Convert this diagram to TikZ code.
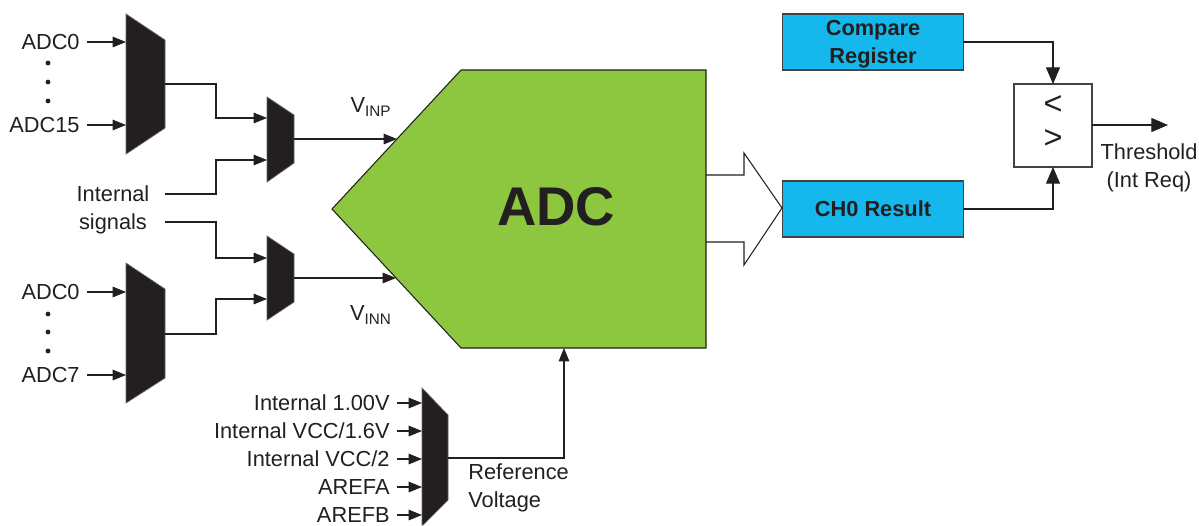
\documentclass[tikz,border=0pt]{standalone}
\usepackage{fontspec}
\setmainfont{Liberation Sans}
\usetikzlibrary{arrows.meta}
\definecolor{adcgreen}{HTML}{8DC63F}
\definecolor{regblue}{HTML}{14B8EC}
\definecolor{muxblack}{HTML}{231F20}
\tikzset{
 sig/.style={draw=muxblack, line width=.6pt, ->, >={Triangle[length=7.6pt,width=6pt]}},
 sigbig/.style={draw=muxblack, line width=.6pt, ->, >={Triangle[length=9.5pt,width=8pt]}},
 wire/.style={draw=muxblack, line width=.6pt},
 muxbody/.style={fill=muxblack, draw=muxblack!70, line width=.4pt},
 txt/.style={text=muxblack, font=\fontsize{12.4}{14}\selectfont, inner sep=0pt, text height=11pt, text depth=2.1pt},
 siglabel/.style={txt, anchor=east, inner xsep=4pt},
 regbox/.style={draw=muxblack!85, fill=regblue, line width=.7pt, outer sep=0pt, minimum width=3.62cm, minimum height=1.12cm, inner sep=0pt}
}
\begin{document}
\begin{tikzpicture}[x=.02cm, y=-.02cm]
\useasboundingbox (0,0) rectangle (1199,525);
\coordinate (inpA) at (397,139);
\coordinate (innA) at (396,278);
\coordinate (refA) at (564,348);
\coordinate (muxAone) at (126,42);
\coordinate (muxAtwo) at (126,125);
\coordinate (muxAout) at (165,84);
\coordinate (muxBone) at (267,118);
\coordinate (muxBtwo) at (267,160);
\coordinate (muxBout) at (294,139);
\coordinate (muxCone) at (267,258);
\coordinate (muxCtwo) at (267,299);
\coordinate (muxCout) at (294,278);
\coordinate (muxDone) at (126,292);
\coordinate (muxDtwo) at (126,375);
\coordinate (muxDout) at (165,334);
\coordinate (muxEout) at (448,458);
\draw[muxbody] (126,14)--(165,40)--(165,128)--(126,154)--cycle;
\draw[muxbody] (267,97)--(294,115)--(294,163)--(267,182)--cycle;
\draw[muxbody] (267,236)--(294,254)--(294,302)--(267,320)--cycle;
\draw[muxbody] (126,263)--(165,289)--(165,378)--(126,403)--cycle;
\draw[muxbody] (422,388)--(448,415)--(448,500)--(423,525)--(422,525)--cycle;
\draw[fill=adcgreen, draw=muxblack, line width=.6pt] (332,209)--(461,70)--(706,70)--(706,348)--(461,348)--cycle;
\node[text=muxblack, inner sep=0pt, font=\fontsize{31}{36}\selectfont\bfseries] (adc) at (556,207) {ADC};
\node[siglabel] (adcA) at (87,42) {ADC0};
\node[siglabel] (adcB) at (87,125) {ADC15};
\node[siglabel] (adcC) at (87,292) {ADC0};
\node[siglabel] (adcD) at (87,375) {ADC7};
\foreach \y in {63,82,101,314,332,351} {
 \fill[muxblack] (48,\y) circle (2.4);
}
\node[txt] (intA) at (113,194) {Internal};
\node[txt] (intB) at (113,222) {signals};
\coordinate (intAend) at (165,194);
\coordinate (intBend) at (165,222);
\node[txt] (vinp) at (371,105) {V\textsubscript{INP}};
\node[txt] (vinn) at (371,313) {V\textsubscript{INN}};
\node[siglabel] (refa) at (397,403) {Internal 1.00V};
\node[siglabel] (refb) at (397,431) {Internal VCC/1.6V};
\node[siglabel] (refc) at (397,459) {Internal VCC/2};
\node[siglabel] (refd) at (397,487) {AREFA};
\node[siglabel] (refe) at (397,515) {AREFB};
\node[txt, anchor=west] (refvA) at (468,472) {Reference};
\node[txt, anchor=west] (refvB) at (468,500) {Voltage};
\node[regbox] (cmpreg) at (873,42) {};
\node[txt, font=\fontsize{12.4}{14}\selectfont\bfseries] (cmpA) at (873,28) {Compare};
\node[txt, font=\fontsize{12.4}{14}\selectfont\bfseries] (cmpB) at (873,56) {Register};
\node[regbox, font=\fontsize{12.4}{14}\selectfont\bfseries, text=muxblack] (result) at (873,209) {CH0 Result};
\node[draw=muxblack!85, line width=.6pt, outer sep=0pt, minimum width=1.56cm, minimum height=1.66cm] (cmp) at (1053,125.5) {};
\node[text=muxblack, inner sep=0pt, font=\fontsize{18.5}{22}\selectfont] (lt) at (1053,105) {<};
\node[text=muxblack, inner sep=0pt, font=\fontsize{18.5}{22}\selectfont] (gt) at (1053,139.5) {>};
\coordinate (thr) at (1168,125);
\node[txt] (thrA) at (1149,152) {Threshold};
\node[txt] (thrB) at (1149,180) {(Int Req)};
\draw[wire] (706,175)--(744,175)--(744,153)--(782,208)--(744,265)--(744,242)--(706,242);
\draw[sig] (adcA.east)--(muxAone);
\draw[sig] (adcB.east)--(muxAtwo);
\draw[sig] (adcC.east)--(muxDone);
\draw[sig] (adcD.east)--(muxDtwo);
\draw[sig] (muxAout)-|(216,118)--(muxBone);
\draw[sig] (intAend)-|(216,160)--(muxBtwo);
\draw[sig] (intBend)-|(216,258)--(muxCone);
\draw[sig] (muxDout)-|(216,299)--(muxCtwo);
\draw[sig] (muxBout)--(inpA);
\draw[sig] (muxCout)--(innA);
\foreach \n in {a,b,c,d,e} {
 \draw[sig] (ref\n.east)--(ref\n.east-|422,0);
}
\draw[sig] (muxEout)-|(refA);
\draw[sigbig] (cmpreg.east)-|(cmp.north);
\draw[sigbig] (result.east)-|(cmp.south);
\draw[sigbig] (cmp.east|-thr)--(thr);
\end{tikzpicture}
\end{document}
